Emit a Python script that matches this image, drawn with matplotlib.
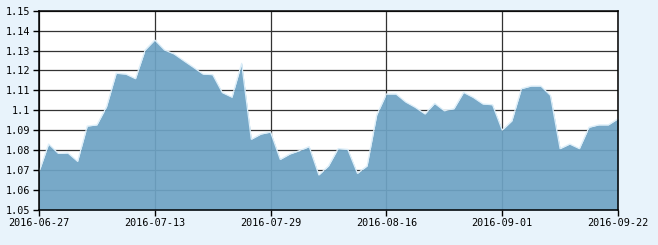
import matplotlib
matplotlib.use('Agg')
import matplotlib.pyplot as plt
from matplotlib.ticker import FuncFormatter

# net value per trading day
values = [1.0692, 1.0831, 1.0784, 1.0786, 1.0744, 1.0921, 1.0927, 1.1018, 1.1186, 1.1182,
          1.1159, 1.1303, 1.1353, 1.1303, 1.1283, 1.1249, 1.1216, 1.1182, 1.1179, 1.1089,
          1.1066, 1.1236, 1.0855, 1.0881, 1.0891, 1.0754, 1.0781, 1.0798, 1.0818, 1.0676,
          1.0721, 1.0808, 1.0804, 1.0684, 1.0721, 1.0977, 1.1082, 1.1082, 1.1042, 1.1015,
          1.0982, 1.1035, 1.0998, 1.1008, 1.1090, 1.1065, 1.1032, 1.1028, 1.0901, 1.0947,
          1.1109, 1.1122, 1.1122, 1.1075, 1.0808, 1.0831, 1.0808, 1.0915, 1.0927, 1.0927,
          1.0958]
tick_pos = [0, 12, 24, 36, 48, 60]
tick_labels = ['2016-06-27', '2016-07-13', '2016-07-29', '2016-08-16', '2016-09-01', '2016-09-22']
yticks = [1.05, 1.06, 1.07, 1.08, 1.09, 1.10, 1.11, 1.12, 1.13, 1.14, 1.15]

bg = '#e8f3fb'
fig = plt.figure(figsize=(6.58, 2.45), dpi=100, facecolor=bg)
ax = fig.add_axes([39/658, 35/245, 579/658, 199.3/245])
ax.set_facecolor('white')

x = list(range(len(values)))
ax.fill_between(x, 1.05, values, color='#6ea3c4', alpha=0.93, lw=0, zorder=3)
ax.plot(x, values, color='#dceef9', lw=0.9, zorder=4)

ax.set_xlim(0, 60)
ax.set_ylim(1.05, 1.15)
ax.set_xticks(tick_pos)
ax.set_xticklabels(tick_labels)
ax.set_yticks(yticks)
ax.yaxis.set_major_formatter(FuncFormatter(lambda v, p: ('%.2f' % v).rstrip('0')))

ax.grid(True, color='#333333', lw=0.9, zorder=1)
ax.set_axisbelow(True)
for s in ax.spines.values():
    s.set_color('black')
    s.set_linewidth(1.1)
    s.set_zorder(5)

ax.tick_params(axis='both', direction='out', length=4, width=1, color='black',
               labelsize=7.3, pad=2)
for lab in ax.get_xticklabels() + ax.get_yticklabels():
    lab.set_fontfamily('DejaVu Sans Mono')

fig.savefig('out.png', dpi=100, facecolor=bg)
